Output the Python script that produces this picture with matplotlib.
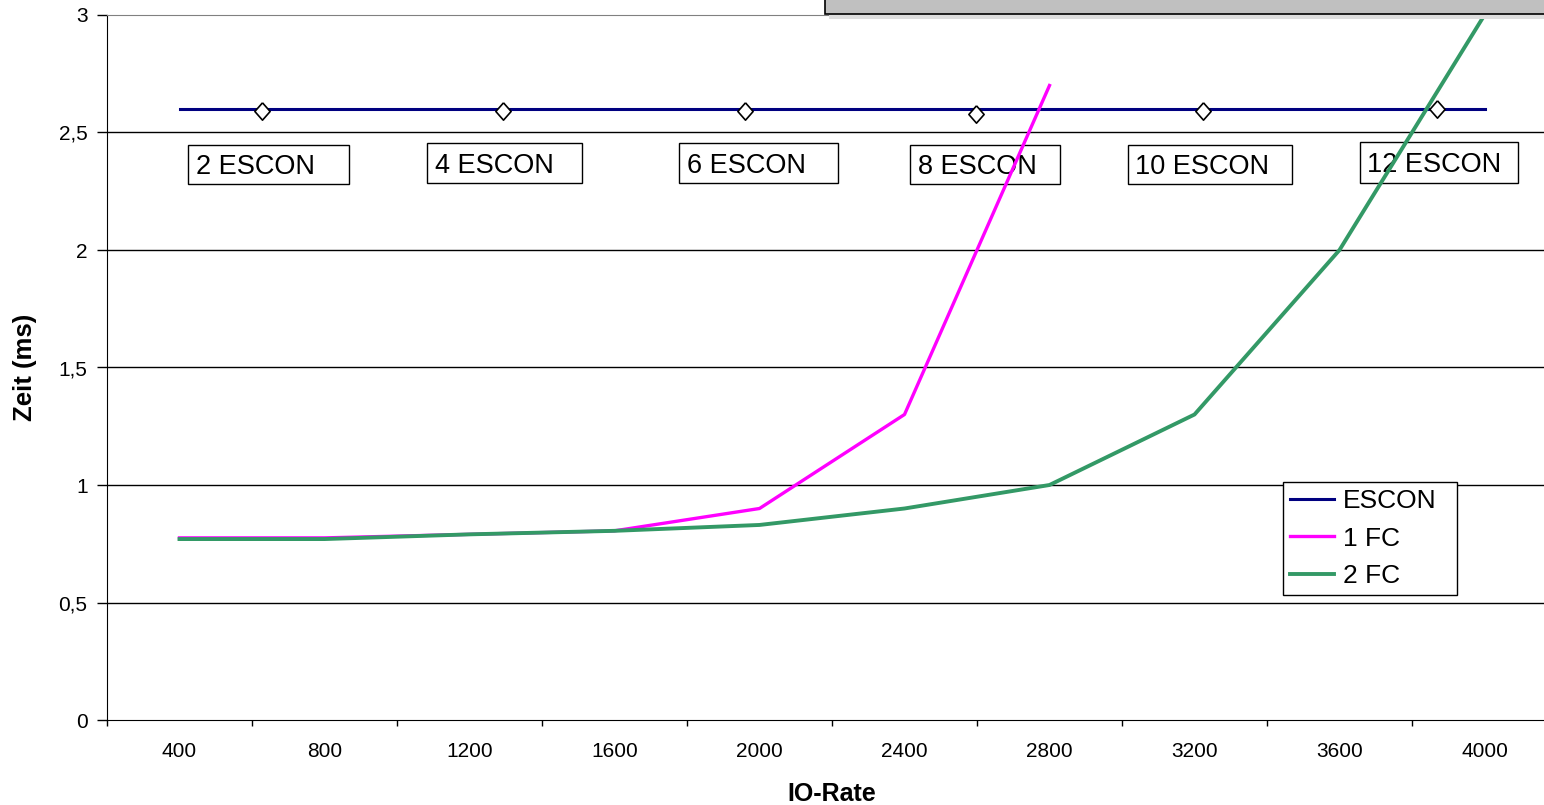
import matplotlib
matplotlib.use("Agg")
import matplotlib.pyplot as plt
from matplotlib.patches import Rectangle

plt.rcParams['font.family'] = ['Liberation Sans', 'DejaVu Sans']

categories = ['400', '800', '1200', '1600', '2000', '2400', '2800', '3200', '3600', '4000']
escon = [2.6] * 10
fc1 = [0.775, 0.775, 0.79, 0.805, 0.90, 1.30, 2.70]
fc2 = [0.77, 0.77, 0.79, 0.805, 0.83, 0.90, 1.00, 1.30, 2.00, 3.00]

# label points (diamond markers), x in category-index units
label_x = [0.57, 2.23, 3.90, 5.49, 7.06, 8.67]
label_y = [2.59, 2.59, 2.59, 2.58, 2.59, 2.60]
label_texts = ['2 ESCON', '4 ESCON', '6 ESCON', '8 ESCON', '10 ESCON', '12 ESCON']

# label box layout (data units)
box_x0 = [0.062, 1.710, 3.448, 5.041, 6.538, 8.138]
box_x1 = [1.166, 2.779, 4.538, 6.069, 7.669, 9.228]
box_ytop = [2.447, 2.455, 2.455, 2.447, 2.447, 2.460]
box_ybot = [2.281, 2.285, 2.285, 2.281, 2.281, 2.285]

W, H = 1544, 805
fig = plt.figure(figsize=(W / 100, H / 100), dpi=100)
ax = fig.add_axes([107 / W, 1 - 720 / H, 1450 / W, 705 / H])

x = list(range(len(categories)))
ax.set_xlim(-0.5, 9.5)
ax.set_ylim(0, 3)

for yv in [0.5, 1, 1.5, 2, 2.5]:
    ax.axhline(yv, color='black', lw=1.0, zorder=1)

for x0, x1, yb, yt, t in zip(box_x0, box_x1, box_ybot, box_ytop, label_texts):
    ax.add_patch(Rectangle((x0, yb), x1 - x0, yt - yb, fc='white', ec='black',
                           lw=1.0, zorder=2))
    ax.text(x0 + 0.055, (yb + yt) / 2, t, fontsize=19.5, ha='left',
            va='center_baseline', zorder=2.5)

ax.plot(x, escon, color='#000080', lw=2.2, label='ESCON', zorder=3)
ax.plot(x[:len(fc1)], fc1, color='#FF00FF', lw=2.4, label='1 FC', zorder=4)
ax.plot(x, fc2, color='#339966', lw=2.8, label='2 FC', zorder=4, clip_on=False)
diamond = [(0, 1), (0.88, 0), (0, -1), (-0.88, 0), (0, 1)]
ax.plot(label_x, label_y, ls='none', marker=diamond, ms=12.5, mfc='white',
        mec='black', mew=1.2, zorder=5)

ax.set_xticks([i - 0.5 for i in range(11)])
ax.set_xticklabels([])
ax.set_xticks(x, minor=True)
ax.set_xticklabels(categories, minor=True, fontsize=15)
ax.tick_params(axis='x', which='major', length=4.5, direction='out', width=1)
ax.tick_params(axis='x', which='minor', length=0, pad=16)

ax.set_yticks([0, 0.5, 1, 1.5, 2, 2.5, 3])
ax.set_yticklabels(['0', '0,5', '1', '1,5', '2', '2,5', '3'], fontsize=15)
ax.tick_params(axis='y', length=7, direction='out', width=1, pad=7)

ax.spines['top'].set_color('#808080')
ax.spines['right'].set_visible(False)
ax.spines['left'].set_color('black')
ax.spines['bottom'].set_color('black')

ax.set_xlabel('IO-Rate', fontsize=18, fontweight='bold', labelpad=15)
ax.set_ylabel('Zeit (ms)', fontsize=18.5, fontweight='bold')
ax.yaxis.set_label_coords(-0.0483, 0.5)

leg = ax.legend(loc='upper left', bbox_to_anchor=(0.811, 0.2376, 0.12, 0.1),
                mode='expand', fontsize=19, frameon=True, fancybox=False,
                edgecolor='black', framealpha=1, borderaxespad=0,
                handlelength=1.67, handletextpad=0.34, labelspacing=0.51,
                borderpad=0.27)
leg.get_frame().set_linewidth(1.0)
leg.set_zorder(10)

# grey title box cut at the top edge
fig.patches.append(Rectangle((829 / W, 1 - 19 / H), 800 / W, 20 / H,
                             transform=fig.transFigure, fc='#dedede', ec='none', zorder=0))
fig.patches.append(Rectangle((825 / W, 1 - 14 / H), 800 / W, 20 / H,
                             transform=fig.transFigure, fc='#c0c0c0', ec='black', lw=1.2, zorder=1))

fig.savefig('out.png', dpi=100)
